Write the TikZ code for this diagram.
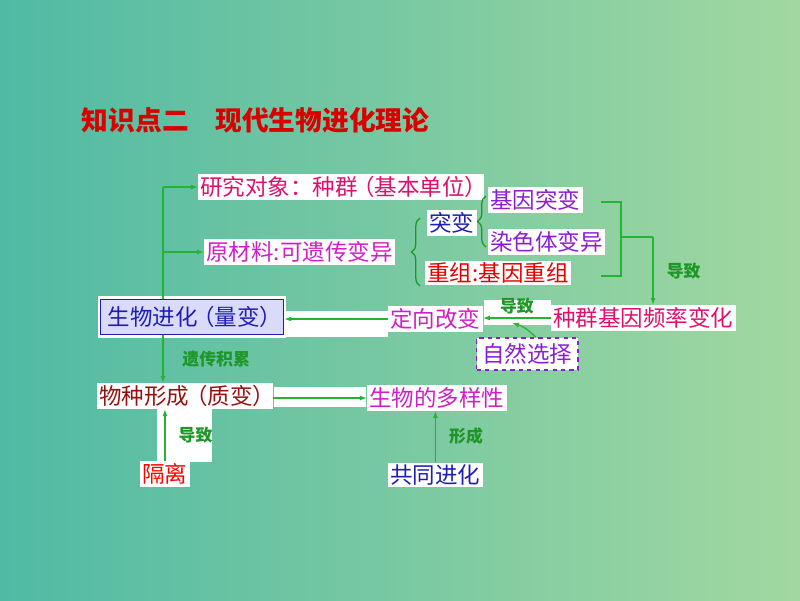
\documentclass[tikz,border=0pt]{standalone}
\usepackage{fontspec}
\newfontfamily\cjk{Noto Sans CJK SC}
\usepackage{tikz}
\usetikzlibrary{calc, arrows.meta, positioning, decorations.pathreplacing}
\usepackage{xcolor}
\definecolor{bgleft}{RGB}{80,186,164}
\definecolor{bgright}{RGB}{162,216,160}
\definecolor{lgreen}{RGB}{34,180,50}
\definecolor{tgreen}{RGB}{30,150,40}
\definecolor{rose}{RGB}{222,16,110}
\definecolor{mag}{RGB}{208,30,200}
\definecolor{purp}{RGB}{140,30,210}
\definecolor{dblue}{RGB}{30,30,180}
\definecolor{dred}{RGB}{150,16,16}
\definecolor{lav}{RGB}{218,218,250}

\begin{document}
\begin{tikzpicture}[x=0.025cm, y=-0.025cm,
    txt/.style={anchor=west, fill=white, inner sep=1.5pt,
                font=\cjk\fontsize{16}{18}\selectfont},
    lbl/.style={font=\cjk\fontsize{12}{14}\selectfont\bfseries, text=tgreen},
    arr/.style={-{Latex[length=5pt,width=3.5pt]}, lgreen, line width=0.9pt},
    line/.style={lgreen, line width=0.9pt},
    brc/.style={decorate, decoration={brace, amplitude=6pt}, tgreen, line width=0.9pt}
  ]
    % background
    \shade[left color=bgleft, right color=bgright] (0,0) rectangle (800,600);
    \useasboundingbox (0,0) rectangle (800,600);

    \node[anchor=west, text=red!85!black, font=\cjk\fontsize{19}{21}\selectfont\bfseries]
      (title) at (77,120) {知识点二\hspace{1em}现代生物进化理论};

    % white strips behind some arrows
    \fill[white] (285,311) rectangle (388,337);
    \fill[white] (274,387) rectangle (366,407);
    \fill[white] (157,408) rectangle (212,462);
    \fill[white] (484,300) rectangle (551,325);

    \node[txt, text=rose]  (yjdx)  at (198,187) {研究对象：种群\kern-4pt（基本单位）\kern-4pt};
    \node[txt, text=mag]   (ycl)   at (204,252) {原材料:可遗传变异};
    \node[txt, text=dblue] (tb)    at (427,223) {突变};
    \node[txt, text=purp]  (jytb)  at (488,200) {基因突变};
    \node[txt, text=purp]  (rstby) at (488,242) {染色体变异};
    \node[txt, text=red!90!black] (cz) at (425,273) {重组:基因重组};
    \node[txt, text=rose]  (zqpl)  at (551,318) {种群基因频率变化};
    \node[txt, text=mag]   (dxgb)  at (388,319) {定向改变};
    \node[txt, text=purp, draw=purp, dashed, line width=0.9pt, inner sep=4pt]
      (zrxz) at (476,354) {自然选择};
    \node[txt, text=dblue, fill=lav, draw=dblue, line width=1pt, inner sep=5pt,
          preaction={draw=white, line width=4pt}]
      (swjh) at (100,317) {生物进化\kern-4pt（量变）\kern-4pt};
    \node[txt, text=dred]  (wzxc)  at (97,396) {物种形成\kern-3pt（质变）\kern-3pt};
    \node[txt, text=mag]   (dyx)   at (367,398) {生物的多样性};
    \node[txt, text=red]   (gl)    at (140,474) {隔离};
    \node[txt, text=dblue] (gtjh)  at (388,475) {共同进化};

    % trunk
    \coordinate (jz) at (163,187);
    \draw[line] (swjh.north -| jz) -- (jz);
    \draw[arr] (jz) -- (yjdx.west);
    \draw[arr] (jz |- ycl.west) -- (ycl.west);
    \draw[arr] (swjh.south -| jz) -- (wzxc.north -| jz)
      node[lbl, midway, right=10pt] {遗传积累};

    % braces
    \draw[brc] (420,286) -- (420,218);
    \draw[brc] (486,247) -- (486,196);

    % bracket
    \draw[line] (601,202) -- (621,202) -- (621,276) -- (601,276);
    \coordinate (dz) at (653,237);
    \draw[line] (621,237) -- (dz);
    \draw[arr] (dz) -- (dz |- zqpl.north) node[lbl, midway, right=6pt] {导致};

    \draw[arr] (zqpl.west) -- (zqpl.west -| dxgb.east) node[lbl, midway, above=-1pt] {导致};
    \draw[arr] (dxgb.west) -- (dxgb.west -| swjh.east);
    \coordinate (xzd) at (512,323);
    \draw[arr] ([xshift=6pt]zrxz.north) to[bend right=15] (xzd);

    \draw[arr] (wzxc.east |- dyx.west) -- (dyx.west);
    \draw[arr] (gl.north) -- (gl.north |- wzxc.south)
      node[lbl, midway, right=6pt] {导致};
    \draw[arr] (gtjh.north) -- (gtjh.north |- dyx.south)
      node[lbl, midway, right=6pt] {形成};
\end{tikzpicture}
\end{document}
